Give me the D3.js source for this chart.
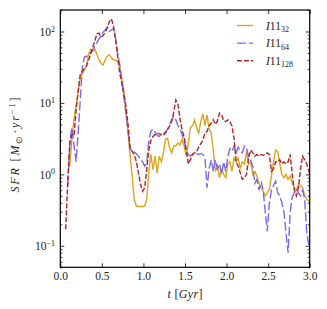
<!DOCTYPE html>
<html>
<head>
<meta charset="utf-8">
<script src="https://cdn.jsdelivr.net/npm/d3@7"></script>
<style>
  body { margin: 0; background: #fff; }
  svg { display: block; }
  .tick text { font-family: "Liberation Serif", serif; }
</style>
</head>
<body>
<svg id="chart"></svg>
<script>
// time grid (Gyr)
const tGyr = [0.065,0.09,0.115,0.14,0.165,0.19,0.215,0.24,0.265,0.29,
  0.315,0.34,0.365,0.39,0.415,0.44,0.465,0.49,0.515,0.54,
  0.565,0.59,0.615,0.64,0.665,0.69,0.715,0.74,0.765,0.79,
  0.815,0.84,0.865,0.89,0.915,0.94,0.965,0.99,1.015,1.04,
  1.065,1.09,1.115,1.14,1.165,1.19,1.215,1.24,1.265,1.29,
  1.315,1.34,1.365,1.39,1.415,1.44,1.465,1.49,1.515,1.54,
  1.565,1.59,1.615,1.64,1.665,1.69,1.715,1.74,1.765,1.79,
  1.815,1.84,1.865,1.89,1.915,1.94,1.965,1.99,2.015,2.04,
  2.065,2.09,2.115,2.14,2.165,2.19,2.215,2.24,2.265,2.29,
  2.315,2.34,2.365,2.39,2.415,2.44,2.465,2.49,2.515,2.54,
  2.565,2.59,2.615,2.64,2.665,2.69,2.715,2.74,2.765,2.79,
  2.815,2.84,2.865,2.89,2.915,2.94,2.965,2.99,3.0];

// SFR in Msun/yr
const sfr32 = [null,null,1.3,3.2,6,9,14,22,26,29,
  33,48,56,53,57,48,40,36,34,40,
  45,47,43,40,40,38,33,22,14.5,7.2,
  3.8,1.8,0.94,0.44,0.36,0.355,0.355,0.355,0.36,0.45,
  1.1,1.9,1.16,1.8,1.04,1.8,1.5,2.0,3.1,3.2,
  2.35,2.0,2.5,2.5,2.75,2.6,3.1,2.5,1.8,2.7,
  4.5,4.8,5.8,4.5,3.8,5.5,7.0,4.8,6.8,4.3,
  3.8,2.2,1.1,1.3,0.9,1.15,1.0,0.9,1.4,1.5,
  1.1,1.7,1.5,1.7,1.2,1.5,1.4,2.1,1.4,1.5,
  1.0,1.1,0.95,0.75,0.65,0.58,0.5,0.55,0.62,0.95,
  1.5,2.2,2.1,1.4,1.0,0.9,1.0,0.85,0.95,0.75,
  0.65,0.6,0.72,0.7,0.65,0.5,0.45,0.42,0.42];

const sfr64 = [null,0.7,3.0,4.5,2.5,1.5,3.8,11,31,44,
  45,46,50,55,62,70,78,88,98,105,
  115,100,105,110,80,50,34,20,12,7,
  4,2.3,2.1,2.05,1.95,1.8,1.6,1.5,1.3,1.45,
  3.0,4.0,4.3,3.9,3.5,3.4,3.6,3.7,3.9,4.3,
  5.0,5.8,6.5,5.8,4.8,4.4,3.6,2.9,2.2,1.9,
  1.8,1.9,2.0,1.95,1.9,1.95,1.9,1.7,0.65,1.2,
  1.6,1.1,1.6,1.2,1.4,1.0,1.5,1.1,1.8,2.3,
  2.1,2.5,2.0,2.4,2.1,2.0,2.5,2.3,1.8,1.6,
  1.3,0.75,0.85,0.6,0.8,0.6,0.3,0.16,0.4,0.6,
  0.7,0.8,0.55,0.5,0.4,0.3,0.15,0.08,0.3,0.48,
  0.55,0.62,0.55,0.5,0.6,0.45,0.15,0.1,0.1];

const sfr128 = [0.17,0.8,2.75,3.6,3.5,8,15,25,28,30,
  33,40,48,60,73,93,95,84,88,98,
  112,138,150,118,77,45,26,19,13,9,
  5,2.3,2.1,1.9,1.5,1.05,0.72,0.58,0.65,1.2,
  2.2,3.0,3.4,3.6,3.8,3.7,3.6,3.5,3.8,4.2,
  4.8,5.5,7.5,11,9.5,6,4.2,3.3,2.2,1.4,
  1.6,1.9,2.0,2.1,2.4,2.7,3.0,3.8,4.0,4.8,
  5.2,5.8,5.0,5.6,7.2,6.8,5.6,5.5,5.8,5.4,
  4.8,3.2,1.5,1.3,1.05,0.85,0.9,1.0,1.7,2.2,
  2.0,1.8,1.9,1.8,1.9,1.85,1.9,2.0,1.9,1.1,
  1.2,1.5,1.5,1.6,1.4,1.5,1.4,1.5,1.9,1.0,
  0.6,0.5,0.65,1.2,1.8,1.6,1.4,1.1,1.0];

const seriesNames = ["32", "64", "128"];
const xTicks = [0, 0.5, 1.0, 1.5, 2.0, 2.5, 3.0];
const yTicks = [0.1, 1, 10, 100];
const yTickExp = ["\u22121", "0", "1", "2"];

const width = 327, height = 309;
const margin = {left: 60.3, right: 17.3, top: 10, bottom: 41.7};

const svg = d3.select("#chart")
  .attr("width", width)
  .attr("height", height);

const x = d3.scaleLinear()
  .domain([0, 3])
  .range([margin.left, width - margin.right]);

const y = d3.scaleLog()
  .domain([0.05, 200])
  .range([height - margin.bottom, margin.top]);

const x0 = x.range()[0], x1 = x.range()[1];
const y0 = y.range()[0], y1 = y.range()[1];

svg.append("clipPath").attr("id", "clip")
  .append("rect")
  .attr("x", x0).attr("y", y1)
  .attr("width", x1 - x0).attr("height", y0 - y1);

// lines
const series = [
  {vals: sfr32, color: "#daa520", dash: null},
  {vals: sfr64, color: "#7b68ee", dash: "9,3"},
  {vals: sfr128, color: "#b22222", dash: "5,2"}
];

const line = d3.line()
  .defined(d => d[1] != null)
  .x(d => x(d[0]))
  .y(d => y(d[1]));

const g = svg.append("g").attr("clip-path", "url(#clip)");
series.forEach(s => {
  g.append("path")
    .datum(tGyr.map((t, i) => [t, s.vals[i]]))
    .attr("fill", "none")
    .attr("stroke", s.color)
    .attr("stroke-width", 1.4)
    .attr("stroke-dasharray", s.dash)
    .attr("d", line);
});

// axes, ticks inward on all sides
const minor = y.ticks().filter(v => yTicks.indexOf(v) < 0);

function axisStyle(sel) {
  sel.select(".domain").remove();
  sel.selectAll(".tick line").attr("stroke", "#000").attr("stroke-width", 0.8);
}

svg.append("g")
  .attr("transform", `translate(0,${y0})`)
  .call(d3.axisBottom(x).tickValues(xTicks).tickSize(-4).tickPadding(5)
    .tickFormat(d3.format(".1f")))
  .call(axisStyle)
  .selectAll("text").attr("font-size", 11.5).attr("fill", "#222");

svg.append("g")
  .attr("transform", `translate(0,${y1})`)
  .call(d3.axisTop(x).tickValues(xTicks).tickSize(-4).tickFormat(""))
  .call(axisStyle);

[[d3.axisLeft, x0], [d3.axisRight, x1]].forEach(([ax, pos]) => {
  svg.append("g")
    .attr("transform", `translate(${pos},0)`)
    .call(ax(y).tickValues(yTicks).tickSize(-4).tickFormat(""))
    .call(axisStyle);
  svg.append("g")
    .attr("transform", `translate(${pos},0)`)
    .call(ax(y).tickValues(minor).tickSize(-2).tickFormat(""))
    .call(axisStyle);
});

// y tick labels 10^n
yTicks.forEach((v, i) => {
  const t = svg.append("text")
    .attr("x", 55)
    .attr("y", y(v) + 4.5)
    .attr("text-anchor", "end")
    .attr("font-family", "Liberation Serif, serif")
    .attr("font-size", 11.5)
    .attr("fill", "#222");
  t.append("tspan").text("10");
  t.append("tspan").attr("dy", -4.5).attr("font-size", 8).text(yTickExp[i]);
});

svg.append("rect")
  .attr("x", x0).attr("y", y1)
  .attr("width", x1 - x0).attr("height", y0 - y1)
  .attr("fill", "none")
  .attr("stroke", "#000")
  .attr("stroke-width", 1.2);

// axis labels
const xl = svg.append("text")
  .attr("x", (x0 + x1) / 2)
  .attr("y", 297.5)
  .attr("text-anchor", "middle")
  .attr("font-family", "Liberation Serif, serif")
  .attr("font-size", 12)
  .attr("fill", "#222")
  .attr("textLength", 35)
  .attr("lengthAdjust", "spacing");
xl.append("tspan").attr("font-style", "italic").text("t");
xl.append("tspan").text(" [");
xl.append("tspan").attr("font-style", "italic").text("Gyr");
xl.append("tspan").text("]");

const yl = svg.append("text")
  .attr("transform", "translate(19,145) rotate(-90)")
  .attr("text-anchor", "middle")
  .attr("font-family", "Liberation Serif, serif")
  .attr("font-size", 12)
  .attr("fill", "#222")
  .attr("textLength", 95)
  .attr("lengthAdjust", "spacing");
yl.append("tspan").attr("font-style", "italic").text("SFR");
yl.append("tspan").text(" [");
yl.append("tspan").attr("font-style", "italic").text("M");
yl.append("tspan").attr("dy", 2.5).attr("font-size", 8.5).text("\u2299");
yl.append("tspan").attr("dy", -2.5).text("\u00b7");
yl.append("tspan").attr("font-style", "italic").text("yr");
yl.append("tspan").attr("dy", -4.5).attr("font-size", 8.5).text("\u22121");
yl.append("tspan").attr("dy", 4.5).text("]");

// legend
const leg = svg.append("g");
series.forEach((s, i) => {
  const ly = 25.5 + i * 17.6;
  leg.append("line")
    .attr("x1", 237).attr("x2", 253)
    .attr("y1", ly).attr("y2", ly)
    .attr("stroke", s.color)
    .attr("stroke-width", 1.4)
    .attr("stroke-dasharray", s.dash);
  const t = leg.append("text")
    .attr("x", 266)
    .attr("y", ly + 4)
    .attr("font-family", "Liberation Serif, serif")
    .attr("font-size", 11.5)
    .attr("fill", "#222");
  t.append("tspan").attr("font-style", "italic").text("I");
  t.append("tspan").text("11");
  t.append("tspan").attr("dy", 2.5).attr("font-size", 8).text(seriesNames[i]);
});
</script>
</body>
</html>
